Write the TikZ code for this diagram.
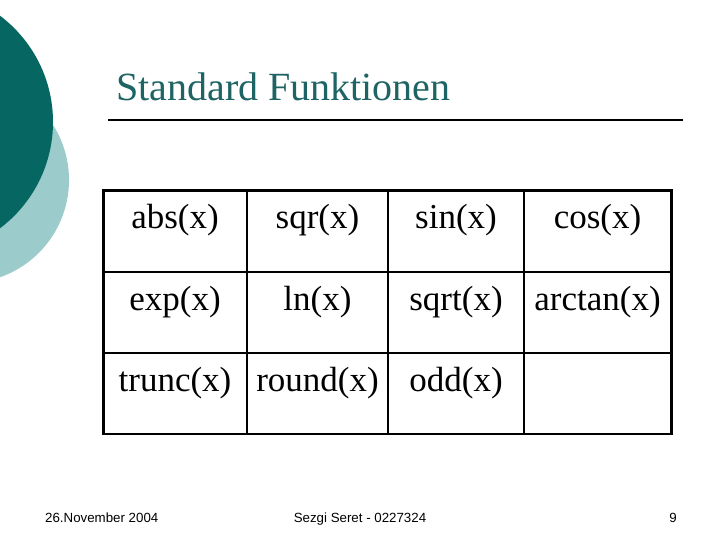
\documentclass[tikz,border=0pt]{standalone}
\usepackage{fontspec}
\setmainfont{Liberation Serif}
\newfontfamily\footfont{Liberation Sans}
\definecolor{darkteal}{HTML}{066661}
\definecolor{lightteal}{HTML}{9CCBCB}
\definecolor{titleteal}{HTML}{1E6464}
\begin{document}
\begin{tikzpicture}[x=1pt,y=-1pt,
  celltext/.style={anchor=base,inner sep=0pt,font=\fontsize{35}{40}\selectfont},
  foottext/.style={anchor=base,inner sep=0pt,font=\footfont\fontsize{13.3}{15}\selectfont},
  outerline/.style={line width=2.8pt},
  innerline/.style={line width=2pt}]
\useasboundingbox (0,0) rectangle (720,540);
\fill[white] (0,0) rectangle (720,540);
% decorative circles
\begin{scope}
\clip (0,0) rectangle (720,540);
\fill[lightteal] (-34,180) circle (103);
\fill[darkteal] (-80,122) circle (133);
\end{scope}
% title
\node[anchor=base west,inner sep=0pt,text=titleteal,font=\fontsize{40}{46}\selectfont] (title) at (116,101) {Standard Funktionen};
\coordinate (rl) at (108,120);
\coordinate (rr) at (683,120);
\draw[line width=2pt] (rl) -- (rr);
% table
\coordinate (tl) at (103.5,190.5);
\coordinate (br) at (671.5,434);
\draw[innerline] (247,190.5) -- (247,434);
\draw[innerline] (388,190.5) -- (388,434);
\draw[innerline] (524,190.5) -- (524,434);
\draw[innerline] (103.5,271.5) -- (671.5,271.5);
\draw[innerline] (103.5,352.5) -- (671.5,352.5);
\draw[outerline] (tl) rectangle (br);
% cell texts
\node[celltext] (c11) at (175,229) {abs(x)};
\node[celltext] (c12) at (317.5,229) {sqr(x)};
\node[celltext] (c13) at (456,229) {sin(x)};
\node[celltext] (c14) at (597.5,229) {cos(x)};
\node[celltext] (c21) at (175,310) {exp(x)};
\node[celltext] (c22) at (317.5,310) {ln(x)};
\node[celltext] (c23) at (456,310) {sqrt(x)};
\node[celltext] (c24) at (597.5,310) {arctan(x)};
\node[celltext] (c31) at (175,391) {trunc(x)};
\node[celltext] (c32) at (317.5,391) {round(x)};
\node[celltext] (c33) at (456,391) {odd(x)};
% footer
\node[foottext,anchor=base west] (date) at (45,522) {26.November 2004};
\node[foottext] (author) at (360,522) {Sezgi Seret - 0227324};
\node[foottext,anchor=base east] (page) at (677,522) {9};
\end{tikzpicture}
\end{document}
